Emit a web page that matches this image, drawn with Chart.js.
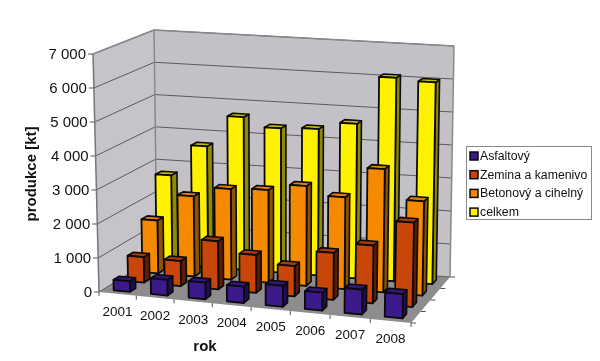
<!DOCTYPE html>
<html>
<head>
<meta charset="utf-8">
<style>
  html, body { margin: 0; padding: 0; background: #fff; }
  #wrap { width: 600px; height: 361px; position: relative; }
</style>
<script src="https://cdn.jsdelivr.net/npm/chart.js@4"></script>
</head>
<body>
<div id="wrap"><canvas id="chart"></canvas></div>
<script>
const years = ['2001', '2002', '2003', '2004', '2005', '2006', '2007', '2008'];
const asfaltovy = [310, 460, 480, 470, 600, 510, 700, 680];
const zemina = [760, 740, 1420, 1110, 880, 1360, 1670, 2420];
const betonovy = [1600, 2410, 2710, 2760, 2960, 2710, 3620, 2760];
const celkem = [2720, 3680, 4640, 4370, 4420, 4650, 6100, 6030];

// face colours per series: front, top, side
const shades = [
  ['#3d1a8c', '#33157a', '#1f0d55'],
  ['#c8460a', '#a83a08', '#5e1c06'],
  ['#f58a00', '#e57c00', '#8f5200'],
  ['#fff200', '#c4bc00', '#8f8a00']
];

// scene corners: floor and the plane at the axis maximum (front left, front right, back right, back left)
const floorQuad = [[99, 292], [411, 323], [450, 277], [157, 256]];
const topQuad = [[93, 54], [416, 72], [454, 46], [154, 30]];
const barDepth = 0.1;

function onQuad(q, u, d) {
  const s = u - 0.05 * u * (1 - u); // years get a bit wider towards the right
  const fx = q[0][0] + (q[1][0] - q[0][0]) * s, fy = q[0][1] + (q[1][1] - q[0][1]) * s;
  const bx = q[3][0] + (q[2][0] - q[3][0]) * s, by = q[3][1] + (q[2][1] - q[3][1]) * s;
  return [fx + (bx - fx) * d, fy + (by - fy) * d];
}

// u along the years, d into the depth, t = share of the y axis height
function project(u, d, t) {
  const a = onQuad(floorQuad, u, d), b = onQuad(topQuad, u, d);
  return [a[0] + (b[0] - a[0]) * t, a[1] + (b[1] - a[1]) * t];
}

function quad(ctx, pts, fill, stroke, lw) {
  ctx.beginPath();
  pts.forEach((p, i) => i ? ctx.lineTo(p[0], p[1]) : ctx.moveTo(p[0], p[1]));
  ctx.closePath();
  if (fill) { ctx.fillStyle = fill; ctx.fill(); }
  if (stroke) { ctx.strokeStyle = stroke; ctx.lineWidth = lw; ctx.lineJoin = 'round'; ctx.stroke(); }
}

function line(ctx, a, b, color, lw) {
  ctx.beginPath();
  ctx.moveTo(a[0], a[1]);
  ctx.lineTo(b[0], b[1]);
  ctx.strokeStyle = color;
  ctx.lineWidth = lw;
  ctx.stroke();
}

const scene3d = {
  id: 'scene3d',
  beforeDatasetsDraw(chart) {
    const ctx = chart.ctx, x = chart.scales.x, y = chart.scales.y;
    const share = v => (y.bottom - y.getPixelForValue(v)) / (y.bottom - y.top);
    const uOf = px => (px - x.left) / (x.right - x.left);
    ctx.save();

    // walls and floor
    quad(ctx, [project(0, 0, 0), project(0, 1, 0), project(0, 1, 1), project(0, 0, 1)], '#c6c4c8');
    quad(ctx, [project(0, 1, 0), project(1, 1, 0), project(1, 1, 1), project(0, 1, 1)], '#c3c1c5');
    quad(ctx, [project(0, 0, 0), project(1, 0, 0), project(1, 1, 0), project(0, 1, 0)], '#8e8c8e');

    // gridlines and value labels
    ctx.font = '15px "Liberation Sans", Arial, sans-serif';
    ctx.textAlign = 'right';
    ctx.textBaseline = 'middle';
    y.ticks.forEach(tick => {
      const t = share(tick.value);
      const front = project(0, 0, t), corner = project(0, 1, t), end = project(1, 1, t);
      line(ctx, front, corner, '#5c5a60', 1);
      line(ctx, corner, end, '#5c5a60', 1);
      line(ctx, front, [front[0] - 5, front[1]], '#555', 1);
      ctx.fillStyle = '#111';
      ctx.fillText(tick.label, front[0] - 7, front[1] + 1);
    });
    line(ctx, project(0, 0, 0), project(0, 0, 1), '#77757a', 1.5);
    line(ctx, project(0, 1, 0), project(0, 1, 1), '#8a888c', 1.5);
    line(ctx, project(1, 1, 0), project(1, 1, 1), '#8a888c', 1.5);
    line(ctx, project(0, 1, 1), project(1, 1, 1), '#8a888c', 1.5);
    line(ctx, project(0, 0, 1), project(0, 1, 1), '#8a888c', 1.5);

    // category ticks and labels along the slanted front edge
    ctx.font = '13.5px "Liberation Sans", Arial, sans-serif';
    ctx.textAlign = 'center';
    for (let i = 0; i <= years.length; i++) {
      const p = project(i / years.length, 0, 0);
      line(ctx, p, [p[0], p[1] + 4], '#555', 1);
    }
    years.forEach((label, i) => {
      const p = project(uOf(x.getPixelForValue(i)), 0, 0);
      ctx.fillStyle = '#111';
      ctx.fillText(label, p[0], p[1] + 18.5);
    });
    // depth ticks on the right floor edge
    for (let i = 0; i <= 4; i++) {
      const p = project(1, i / 4, 0);
      line(ctx, p, [p[0] + 5, p[1]], '#555', 1);
    }

    // axis titles
    ctx.fillStyle = '#111';
    ctx.font = 'bold 15px "Liberation Sans", Arial, sans-serif';
    ctx.fillText('rok', 205, 347);
    ctx.translate(32, 174);
    ctx.rotate(-Math.PI / 2);
    ctx.fillText('produkce [kt]', 0, 0);
    ctx.restore();

    // legend
    ctx.save();
    ctx.strokeStyle = '#8a8a8a';
    ctx.lineWidth = 1;
    ctx.strokeRect(466.5, 146.5, 125, 73);
    ctx.font = '12.3px "Liberation Sans", Arial, sans-serif';
    ctx.textAlign = 'left';
    ctx.textBaseline = 'middle';
    chart.data.datasets.forEach((set, i) => {
      const rowY = 156 + i * 18.7;
      ctx.fillStyle = set.backgroundColor;
      ctx.strokeStyle = '#0a0a0a';
      ctx.lineWidth = 1.5;
      ctx.fillRect(470, rowY - 4, 8, 8);
      ctx.strokeRect(470, rowY - 4, 8, 8);
      ctx.fillStyle = '#111';
      ctx.fillText(set.label, 480, rowY + 0.5);
    });
    ctx.restore();
  },
  beforeDatasetDraw(chart, args) {
    const ctx = chart.ctx, x = chart.scales.x, y = chart.scales.y;
    const [front, top, side] = shades[args.index];
    const d0 = (args.index + 0.5) / 4 - barDepth / 2, d1 = d0 + barDepth;
    ctx.save();
    args.meta.data.forEach(bar => {
      const u0 = (bar.x - bar.width / 2 - x.left) / (x.right - x.left);
      const u1 = (bar.x + bar.width / 2 - x.left) / (x.right - x.left);
      const t = (y.bottom - bar.y) / (y.bottom - y.top);
      quad(ctx, [project(u1, d0, 0), project(u1, d1, 0), project(u1, d1, t), project(u1, d0, t)], side, '#0a0a0a', 1.6);
      quad(ctx, [project(u0, d0, t), project(u1, d0, t), project(u1, d1, t), project(u0, d1, t)], top, '#0a0a0a', 1.6);
      quad(ctx, [project(u0, d0, 0), project(u1, d0, 0), project(u1, d0, t), project(u0, d0, t)], front, '#0a0a0a', 1.8);
    });
    ctx.restore();
    return false; // cuboids replace the flat bar
  }
};

const makeSet = (label, data, i) => ({
  label: label,
  data: data,
  backgroundColor: shades[i][0],
  grouped: false,
  barPercentage: 0.44,
  categoryPercentage: 1
});

new Chart(document.getElementById('chart'), {
  type: 'bar',
  data: {
    labels: years,
    datasets: [
      makeSet('Asfaltový', asfaltovy, 0),
      makeSet('Zemina a kamenivo', zemina, 1),
      makeSet('Betonový a cihelný', betonovy, 2),
      makeSet('celkem', celkem, 3)
    ]
  },
  options: {
    responsive: true,
    maintainAspectRatio: false,
    animation: false,
    plugins: {
      legend: { display: false },
      tooltip: { enabled: false }
    },
    scales: {
      x: { display: false },
      y: {
        display: false,
        min: 0,
        max: 7000,
        ticks: {
          stepSize: 1000,
          callback: v => v === 0 ? '0' : (v / 1000) + ' 000'
        }
      }
    }
  },
  plugins: [scene3d]
});
</script>
</body>
</html>
